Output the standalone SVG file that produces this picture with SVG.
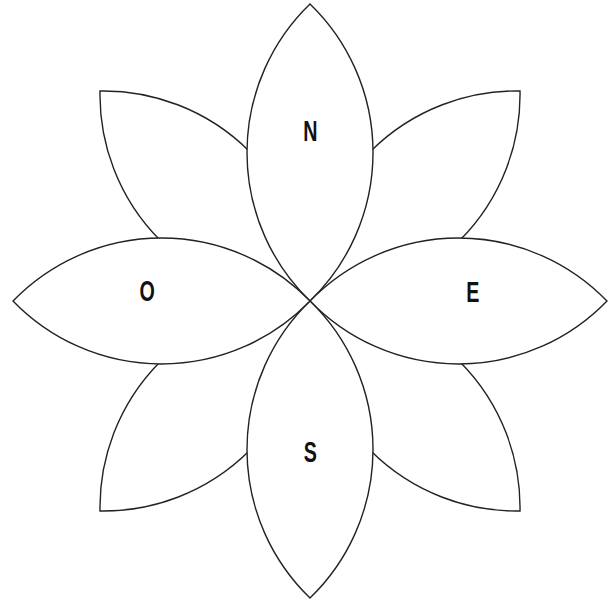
<svg xmlns="http://www.w3.org/2000/svg" xmlns:xlink="http://www.w3.org/1999/xlink" width="610" height="601" viewBox="0 0 610 601">
<style>
.petal{fill:#ffffff;stroke:#222222;stroke-width:1.4;stroke-linejoin:miter}
.lbl{font-family:"Liberation Sans",Arial,sans-serif;font-weight:bold;font-size:29px;fill:#111111;text-anchor:middle}
</style>
<defs>
<path id="petal" d="M0 0 A206.5 206.5 0 0 1 0 -297 A206.5 206.5 0 0 1 0 0 Z"/>
</defs>
<rect width="610" height="601" fill="#ffffff"/>
<g transform="translate(310 301)">
<g id="petal-NE"><use xlink:href="#petal" class="petal" transform="rotate(45)"/></g>
<g id="petal-SE"><use xlink:href="#petal" class="petal" transform="rotate(135)"/></g>
<g id="petal-SW"><use xlink:href="#petal" class="petal" transform="rotate(225)"/></g>
<g id="petal-NW"><use xlink:href="#petal" class="petal" transform="rotate(315)"/></g>
<g id="petal-N"><use xlink:href="#petal" class="petal" transform="rotate(0)"/></g>
<g id="petal-E"><use xlink:href="#petal" class="petal" transform="rotate(90)"/></g>
<g id="petal-S"><use xlink:href="#petal" class="petal" transform="rotate(180)"/></g>
<g id="petal-O"><use xlink:href="#petal" class="petal" transform="rotate(270)"/></g>
</g>
<g id="labels">
<text class="lbl" transform="translate(310.3 140.7) scale(0.68 1)">N</text>
<text class="lbl" transform="translate(472.8 301.5) scale(0.68 1)">E</text>
<text class="lbl" transform="translate(310.3 462) scale(0.68 1)">S</text>
<text class="lbl" transform="translate(147.2 301) scale(0.68 1)">O</text>
</g>
<g id="connectors"></g>
</svg>
